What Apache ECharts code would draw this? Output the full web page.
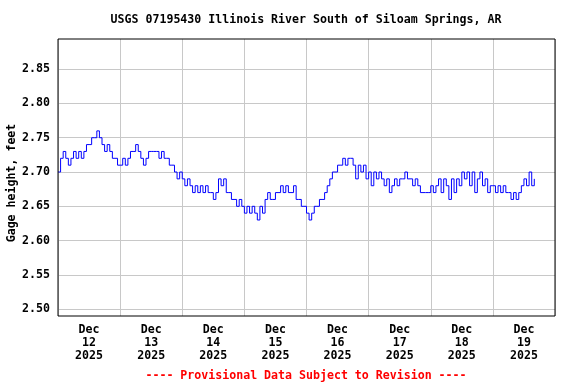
<!DOCTYPE html>
<html><head><meta charset="utf-8">
<script src="https://cdn.jsdelivr.net/npm/echarts@6/dist/echarts.min.js"></script>
<style>html,body{margin:0;padding:0;background:#fff}#c{width:576px;height:384px}</style>
</head><body><div id="c"></div>
<script>
const titleText = 'USGS 07195430 Illinois River South of Siloam Springs, AR';
const yAxisName = 'Gage height, feet';
const footerText = '---- Provisional Data Subject to Revision ----';
const dayLabels = ['Dec\n12\n2025','Dec\n13\n2025','Dec\n14\n2025','Dec\n15\n2025','Dec\n16\n2025','Dec\n17\n2025','Dec\n18\n2025','Dec\n19\n2025'];
const yTicks = [2.50, 2.55, 2.60, 2.65, 2.70, 2.75, 2.80, 2.85];
const yMin = 2.49, yMax = 2.894;
const hoursSpan = 192;      // Dec 12 00:00 to Dec 20 00:00
const stepHours = 1;        // hourly readings from Dec 12 00:00
const gageHeight = [
  // Dec 12
  2.70,2.72,2.73,2.72,2.71,2.72,2.73,2.72,2.73,2.72,2.73,2.74,2.74,2.75,2.75,2.76,2.75,2.74,2.73,2.74,2.73,2.72,2.72,2.71,
  // Dec 13
  2.71,2.72,2.71,2.72,2.73,2.73,2.74,2.73,2.72,2.71,2.72,2.73,2.73,2.73,2.73,2.72,2.73,2.72,2.72,2.71,2.71,2.70,2.69,2.70,
  // Dec 14
  2.69,2.68,2.69,2.68,2.67,2.68,2.67,2.68,2.67,2.68,2.67,2.67,2.66,2.67,2.69,2.68,2.69,2.67,2.67,2.66,2.66,2.65,2.66,2.65,
  // Dec 15
  2.64,2.65,2.64,2.65,2.64,2.63,2.65,2.64,2.66,2.67,2.66,2.66,2.67,2.67,2.68,2.67,2.68,2.67,2.67,2.68,2.66,2.66,2.65,2.65,
  // Dec 16
  2.64,2.63,2.64,2.65,2.65,2.66,2.66,2.67,2.68,2.69,2.70,2.70,2.71,2.71,2.72,2.71,2.72,2.72,2.71,2.69,2.71,2.70,2.71,2.69,
  // Dec 17
  2.70,2.68,2.70,2.69,2.70,2.69,2.68,2.69,2.67,2.68,2.69,2.68,2.69,2.69,2.70,2.69,2.69,2.68,2.69,2.68,2.67,2.67,2.67,2.67,
  // Dec 18
  2.68,2.67,2.68,2.69,2.67,2.69,2.68,2.66,2.69,2.67,2.69,2.68,2.70,2.69,2.70,2.68,2.70,2.67,2.69,2.70,2.68,2.69,2.67,2.68,
  // Dec 19
  2.68,2.67,2.68,2.67,2.68,2.67,2.67,2.66,2.67,2.66,2.67,2.68,2.69,2.68,2.70,2.68,2.69
];

const FONT = '"DejaVu Sans Mono", "Liberation Mono", monospace';
const seriesData = gageHeight.map((v, i) => [i * stepHours, v]);

const chart = echarts.init(document.getElementById('c'), null, {renderer: 'canvas'});
chart.setOption({
  animation: false,
  backgroundColor: '#fff',
  grid: {left: 58, right: 21, top: 39, bottom: 68, containLabel: false, outerBoundsMode: 'none',
         show: true, borderColor: '#000', borderWidth: 1, backgroundColor: 'transparent', z: 10},
  graphic: [
    {type: 'text', x: 306, y: 20, z: 100, style: {text: titleText, align: 'center', verticalAlign: 'middle', font: 'bold 11.6px ' + FONT, fill: '#000'}},
    {type: 'text', x: 12, y: 183, rotation: Math.PI / 2, z: 100, style: {text: yAxisName, align: 'center', verticalAlign: 'middle', font: 'bold 11.6px ' + FONT, fill: '#000'}},
    {type: 'text', x: 306, y: 376, z: 100, style: {text: footerText, align: 'center', verticalAlign: 'middle', font: 'bold 11.6px ' + FONT, fill: '#ff0000'}}
  ],
  xAxis: [
    {type: 'category', data: dayLabels, boundaryGap: true,
     axisLine: {show: false}, axisTick: {show: false},
     splitLine: {show: true, lineStyle: {color: '#c8c8c8', width: 1}},
     axisLabel: {color: '#000', fontFamily: FONT, fontWeight: 'bold', fontSize: 11.6, lineHeight: 12.6, margin: 8}},
    {type: 'value', min: 0, max: hoursSpan, show: false}
  ],
  yAxis: {
    type: 'value', min: yMin, max: yMax,
    axisLine: {show: false}, axisTick: {show: false, customValues: yTicks},
    axisLabel: {customValues: yTicks, color: '#000', fontFamily: FONT, fontWeight: 'bold', fontSize: 11.6, margin: 8,
      formatter: v => v.toFixed(2)},
    splitLine: {show: true, lineStyle: {color: '#c8c8c8', width: 1}}
  },
  series: [{
    type: 'line', xAxisIndex: 1, data: seriesData, step: 'end', showSymbol: false,
    lineStyle: {color: '#0000ff', width: 1}, itemStyle: {color: '#0000ff'}, z: 5
  }]
});
</script></body></html>
